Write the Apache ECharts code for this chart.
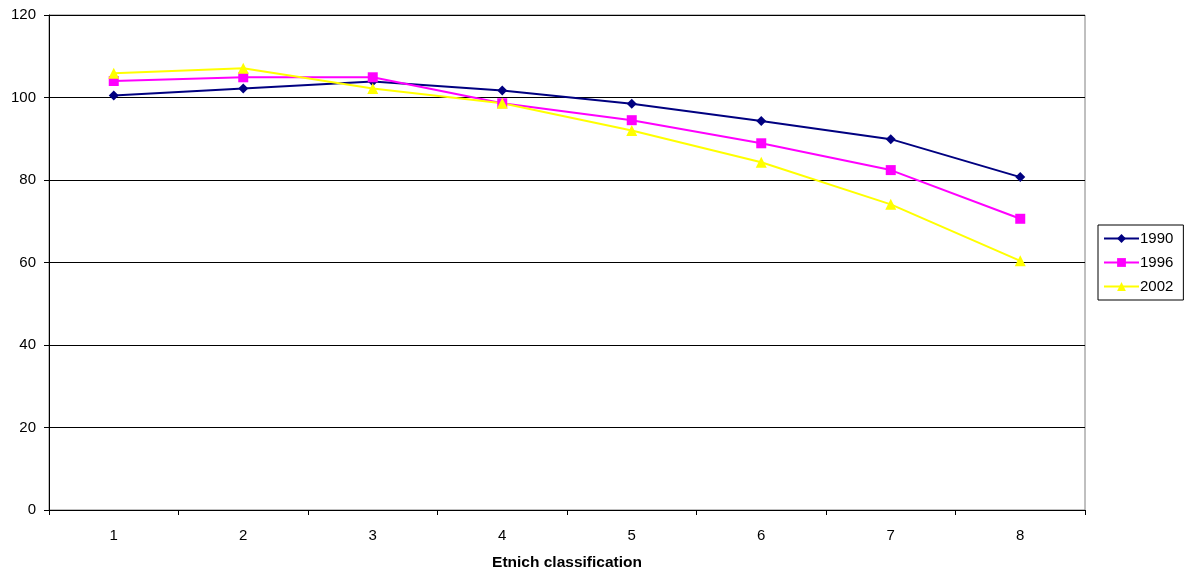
<!DOCTYPE html>
<html><head><meta charset="utf-8">
<script src="https://cdn.jsdelivr.net/npm/echarts@6/dist/echarts.min.js"></script>
<style>html,body{margin:0;padding:0;background:#fff}#c{width:1187px;height:573px}</style>
</head><body><div id="c"></div>
<script>
const categories = ['1','2','3','4','5','6','7','8'];
const s1990 = [100.5, 102.2, 103.9, 101.7, 98.5, 94.3, 89.9, 80.7];
const s1996 = [104.0, 104.9, 104.9, 98.6, 94.5, 88.9, 82.4, 70.6];
const s2002 = [105.9, 107.1, 102.2, 98.6, 92.0, 84.3, 74.1, 60.4];
const yTicks = {min: 0, max: 120, interval: 20};
const font = 'Liberation Sans, Arial, sans-serif';
const chart = echarts.init(document.getElementById('c'), null, {renderer: 'canvas'});
chart.setOption({
  animation: false,
  backgroundColor: '#fff',
  grid: {left: 49, right: 102, top: 15, bottom: 63, show: true, borderColor: '#808080', borderWidth: 1,
         containLabel: false, outerBoundsMode: 'none'},
  legend: {
    orient: 'vertical', left: 1098, top: 225,
    data: ['1990','1996','2002'],
    borderColor: '#000', borderWidth: 1, padding: [6, 10, 6, 5],
    itemWidth: 35, itemHeight: 11, itemGap: 9,
    textStyle: {fontFamily: font, fontSize: 15, lineHeight: 15, color: '#000', padding: [0,0,0,-4]}
  },
  xAxis: {
    type: 'category', data: categories, boundaryGap: true,
    name: 'Etnich classification', nameLocation: 'middle', nameGap: 45,
    nameTextStyle: {fontFamily: font, fontSize: 15.5, fontWeight: 'bold', color: '#000'},
    axisLine: {lineStyle: {color: '#000', width: 1}},
    axisTick: {show: true, length: 5, lineStyle: {color: '#000'}},
    axisLabel: {fontFamily: font, fontSize: 15, color: '#000', margin: 18}
  },
  yAxis: {
    type: 'value', min: yTicks.min, max: yTicks.max, interval: yTicks.interval,
    axisLine: {show: true, lineStyle: {color: '#000', width: 1}},
    axisTick: {show: true, length: 5, lineStyle: {color: '#000'}},
    axisLabel: {fontFamily: font, fontSize: 15, color: '#000', margin: 13},
    splitLine: {show: true, lineStyle: {color: '#000', width: 1}}
  },
  series: [
    {name: '1990', type: 'line', data: s1990, symbol: 'diamond', symbolSize: 10,
     itemStyle: {color: '#000080'}, lineStyle: {color: '#000080', width: 2}},
    {name: '1996', type: 'line', data: s1996, symbol: 'rect', symbolSize: 10,
     itemStyle: {color: '#FF00FF'}, lineStyle: {color: '#FF00FF', width: 2}},
    {name: '2002', type: 'line', data: s2002, symbol: 'triangle', symbolSize: 11,
     itemStyle: {color: '#FFFF00'}, lineStyle: {color: '#FFFF00', width: 2}}
  ]
});
</script></body></html>
